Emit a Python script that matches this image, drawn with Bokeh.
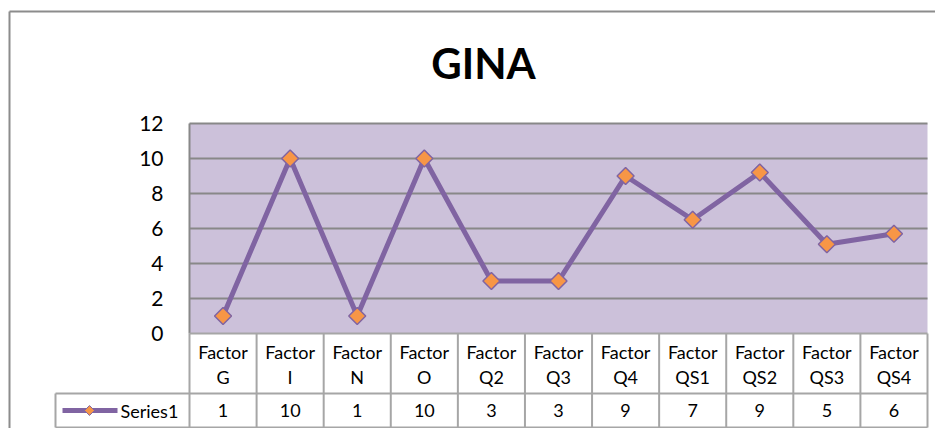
import math
from bokeh.plotting import figure
from bokeh.models import Range1d
from bokeh.core.properties import value
from bokeh.embed import file_html
from bokeh.resources import INLINE

# ---------------- data ----------------
title_text = "GINA"
categories = ["Factor G", "Factor I", "Factor N", "Factor O", "Factor Q2", "Factor Q3",
              "Factor Q4", "Factor QS1", "Factor QS2", "Factor QS3", "Factor QS4"]
series_name = "Series1"
series_values = [1, 10, 1, 10, 3, 3, 9, 6.5, 9.2, 5.1, 5.7]
table_labels = ["1", "10", "1", "10", "3", "3", "9", "7", "9", "5", "6"]
y_ticks = [0, 2, 4, 6, 8, 10, 12]

# ---------------- layout (page pixels) ----------------
W, H = 935, 428
OFF = 0
plot_left, plot_right = 189, 927
plot_top, plot_zero = 123, 333
table_mid, table_bottom = 393, 427
legend_left = 55
ymax = y_ticks[-1]
n = len(categories)

col_w = (plot_right - plot_left) / n
unit = (plot_zero - plot_top) / ymax
x_start = -0.5 - (plot_left - OFF) / col_w
x_end = x_start + W / col_w
y_end = ymax + (plot_top - OFF) / unit
y_start = y_end - H / unit


def fx(px):
    return x_start + (px - OFF) / col_w


def fy(py):
    return y_end - (py - OFF) / unit


p = figure(width=W, height=H, output_backend="svg", toolbar_location=None,
           x_axis_type=None, y_axis_type=None, min_border=0,
           x_range=Range1d(x_start, x_end), y_range=Range1d(y_start, y_end))
p.outline_line_color = None
p.grid.visible = False
p.background_fill_color = "white"
p.border_fill_color = "white"

FONT = value("Lato")
GRID = "#888888"
TABLE = "#a6a6a6"

# outer chart border
p.segment(x0=[fx(9), fx(9)], y0=[fy(11), fy(11)], x1=[fx(9), fx(950)], y1=[fy(450), fy(11)],
          line_color="#8c8c8c", line_width=2)

# plot area
xs = list(range(n))
p.quad(left=[-0.5], right=[n - 0.5], bottom=[0], top=[ymax],
       fill_color="#CCC1DA", line_color=None)
gl = [t for t in y_ticks if t > 0]
p.segment(x0=[-0.5] * len(gl), x1=[n - 0.5] * len(gl), y0=gl, y1=gl,
          line_color=GRID, line_width=2)
p.segment(x0=[-0.5], x1=[-0.5], y0=[0], y1=[ymax], line_color=GRID, line_width=2)

# y tick labels
p.text(x=[fx(163)] * len(y_ticks), y=y_ticks, text=[str(t) for t in y_ticks],
       text_align="right", text_baseline="middle", text_font=FONT,
       text_font_size="21px", text_color="black")

# title
p.text(x=[fx(483)], y=[fy(62)], text=[title_text], text_align="center",
       text_baseline="middle", text_font=FONT, text_font_size="42px",
       text_font_style="bold", text_color="black")

# data table
y_mid = fy(table_mid)
y_bot = fy(table_bottom)
x_leg = fx(legend_left)
p.segment(x0=[-0.5, x_leg, x_leg], x1=[n - 0.5] * 3, y0=[0, y_mid, y_bot], y1=[0, y_mid, y_bot],
          line_color=TABLE, line_width=2)
bounds = [i - 0.5 for i in range(n + 1)]
p.segment(x0=bounds, x1=bounds, y0=[0] * len(bounds), y1=[y_bot] * len(bounds),
          line_color=TABLE, line_width=2)
p.segment(x0=[x_leg], x1=[x_leg], y0=[y_mid], y1=[y_bot], line_color=TABLE, line_width=2)

line1 = [c.split(" ")[0] for c in categories]
line2 = [c.split(" ")[1] for c in categories]
p.text(x=xs, y=[fy(351)] * n, text=line1, text_align="center", text_baseline="middle",
       text_font=FONT, text_font_size="18px", text_color="black")
p.text(x=xs, y=[fy(376)] * n, text=line2, text_align="center", text_baseline="middle",
       text_font=FONT, text_font_size="18px", text_color="black")
p.text(x=xs, y=[fy(410)] * n, text=table_labels, text_align="center", text_baseline="middle",
       text_font=FONT, text_font_size="18px", text_color="black")

# legend key in table
p.line(x=[fx(62), fx(117)], y=[fy(410), fy(410)], line_color="#8064A2", line_width=5)
p.scatter(x=[fx(89)], y=[fy(410)], marker="square", angle=math.pi / 4, size=7,
          fill_color="#F79646", line_color="#8064A2", line_width=1)
p.text(x=[fx(120)], y=[fy(410)], text=[series_name], text_align="left", text_baseline="middle",
       text_font=FONT, text_font_size="18px", text_color="black")

# series
p.line(x=xs, y=series_values, line_color="#8064A2", line_width=5, line_join="round")
p.scatter(x=xs, y=series_values, marker="square", angle=math.pi / 4, size=12,
          fill_color="#F79646", line_color="#8064A2", line_width=1.5)

open("out.html", "w").write(file_html(p, INLINE))
